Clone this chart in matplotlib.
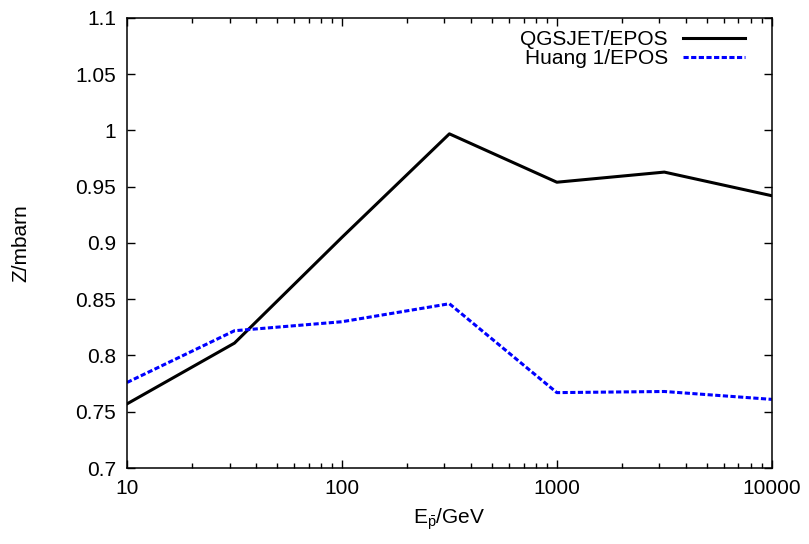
import matplotlib
matplotlib.use('Agg')
import matplotlib.pyplot as plt
import numpy as np

plt.rcParams['font.family'] = ['Liberation Sans', 'DejaVu Sans']
plt.rcParams['mathtext.fontset'] = 'custom'
plt.rcParams['mathtext.rm'] = 'Liberation Sans'
plt.rcParams['mathtext.it'] = 'Liberation Sans'

# energies (GeV) and ratios
energy = [10, 31.62, 100, 316.2, 1000, 3162, 10000]
qgsjet_epos = [0.757, 0.811, 0.905, 0.997, 0.954, 0.963, 0.942]
huang_epos = [0.776, 0.822, 0.830, 0.846, 0.767, 0.768, 0.761]
yticks = [0.7, 0.75, 0.8, 0.85, 0.9, 0.95, 1, 1.05, 1.1]
ylabels = ['0.7', '0.75', '0.8', '0.85', '0.9', '0.95', '1', '1.05', '1.1']

fig = plt.figure(figsize=(8.09, 5.44), dpi=100)
ax = fig.add_axes([0.157, 0.1397, 0.797, 0.8273])

ax.plot(energy, qgsjet_epos, color='black', lw=2.2, label='QGSJET/EPOS')
ax.plot(energy, huang_epos, color='#0000ff', lw=2.2, linestyle=(0, (1.7, 0.8)),
        label='Huang 1/EPOS')

ax.set_xscale('log')
ax.set_xlim(10, 10000)
ax.set_ylim(0.7, 1.1)
ax.set_xticks([10, 100, 1000, 10000])
ax.set_xticklabels(['10', '100', '1000', '10000'])
ax.set_yticks(yticks)
ax.set_yticklabels(ylabels)
ax.tick_params(which='both', direction='in', top=True, right=True, labelsize=15, pad=8)
ax.tick_params(which='major', length=6, width=1)
ax.tick_params(which='minor', length=3.5, width=1)
ax.tick_params(axis='y', which='minor', left=False, right=False)
for s in ax.spines.values():
    s.set_linewidth(1.1)

ax.set_ylabel('Z/mbarn', fontsize=15, labelpad=32)
ax.set_xlabel(r'E$_{\bar{p}}$/GeV', fontsize=15, labelpad=6)

ax.legend(loc='upper right', frameon=False, markerfirst=False, fontsize=15,
          handlelength=3.0, labelspacing=0.0, handletextpad=0.7,
          borderaxespad=0.2, bbox_to_anchor=(0.978, 1.0))

fig.savefig('out.png', dpi=100)
